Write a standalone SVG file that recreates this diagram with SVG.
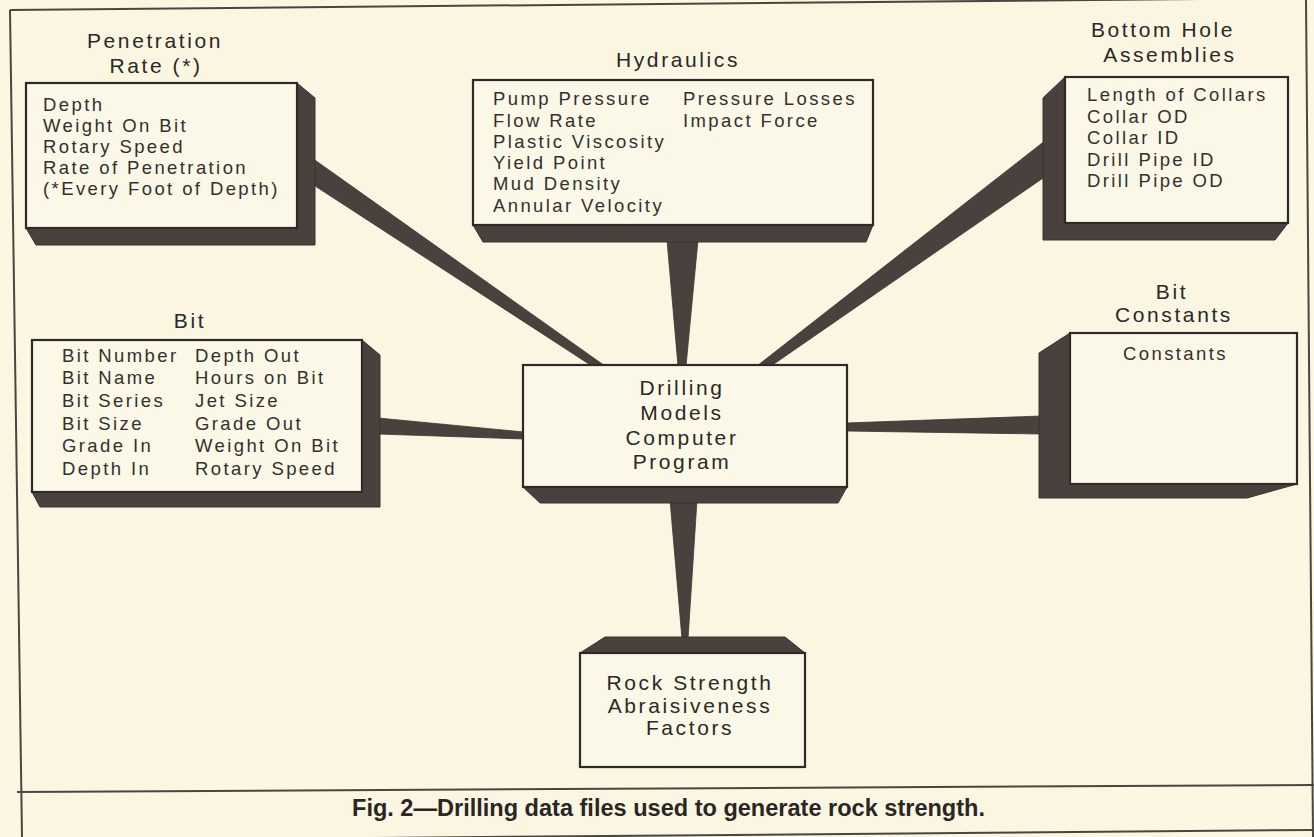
<svg xmlns="http://www.w3.org/2000/svg" width="1314" height="837" viewBox="0 0 1314 837">
<style>
.bg{fill:#faf6e2}
.shade{fill:#4a413e;stroke:#3a3230;stroke-width:1}
.face{fill:#fbf8e8;stroke:#2e2a28;stroke-width:2.2}
.frame{stroke:#4a4540;stroke-width:2;fill:none}
.wedge{fill:#4a403d;stroke:#3d3532;stroke-width:0.8}
.title{font-family:"Liberation Sans",Arial,sans-serif;font-size:21px;letter-spacing:2.6px;fill:#2b2826;text-anchor:middle}
.body{font-family:"Liberation Sans",Arial,sans-serif;font-size:18.5px;letter-spacing:2.4px;fill:#33302d}
.cap{font-family:"Liberation Sans",Arial,sans-serif;font-size:23px;font-weight:bold;fill:#2a2624}
</style>
<rect class="bg" x="0" y="0" width="1314" height="837"/>
<g id="frame">
<line class="frame" x1="10" y1="10" x2="1307" y2="-2"/>
<line class="frame" x1="10" y1="10" x2="22" y2="837"/>
<line class="frame" x1="1306" y1="0" x2="1313" y2="837"/>
<line class="frame" x1="17" y1="792" x2="1314" y2="785"/>
<line class="frame" x1="22" y1="841" x2="1314" y2="830"/>
</g>
<g id="connectors">
<polygon class="wedge" points="312,158 312,184 592,366 605,366"/>
<polygon class="wedge" points="667,240 698,240 686,366 678,366"/>
<polygon class="wedge" points="1046,140 1046,176 771,366 757,366"/>
<polygon class="wedge" points="378,418 378,434 524,439 524,432"/>
<polygon class="wedge" points="846,423 846,431 1042,434 1042,416"/>
<polygon class="wedge" points="670,500 697,500 688,639 682,639"/>
</g>
<g id="penetration-rate">
<polygon class="shade" points="26,83 297,83 315,98 315,245 36,245 26,228"/>
<rect class="face" x="26" y="83" width="271" height="145"/>
<text class="title" x="155" y="48">Penetration</text>
<text class="title" x="156" y="73">Rate (*)</text>
<text class="body" x="43" y="111">Depth</text>
<text class="body" x="43" y="132">Weight On Bit</text>
<text class="body" x="43" y="153">Rotary Speed</text>
<text class="body" x="43" y="174">Rate of Penetration</text>
<text class="body" x="43" y="195">(*Every Foot of Depth)</text>
</g>
<g id="hydraulics">
<polygon class="shade" points="473,225 873,225 866,242 483,242"/>
<rect class="face" x="473" y="80" width="400" height="145"/>
<text class="title" x="678" y="67">Hydraulics</text>
<text class="body" x="493" y="105">Pump Pressure</text>
<text class="body" x="493" y="127">Flow Rate</text>
<text class="body" x="493" y="148">Plastic Viscosity</text>
<text class="body" x="493" y="169">Yield Point</text>
<text class="body" x="493" y="190">Mud Density</text>
<text class="body" x="493" y="212">Annular Velocity</text>
<text class="body" x="683" y="105">Pressure Losses</text>
<text class="body" x="683" y="127">Impact Force</text>
</g>
<g id="bottom-hole-assemblies">
<polygon class="shade" points="1065,77 1043,98 1043,240 1275,240 1288,223"/>
<rect class="face" x="1065" y="77" width="223" height="146"/>
<text class="title" x="1163" y="37">Bottom Hole</text>
<text class="title" x="1170" y="62">Assemblies</text>
<text class="body" x="1087" y="101">Length of Collars</text>
<text class="body" x="1087" y="123">Collar OD</text>
<text class="body" x="1087" y="144">Collar ID</text>
<text class="body" x="1087" y="166">Drill Pipe ID</text>
<text class="body" x="1087" y="187">Drill Pipe OD</text>
</g>
<g id="bit">
<polygon class="shade" points="32,340 362,340 380,355 380,507 40,507 32,492"/>
<rect class="face" x="32" y="340" width="330" height="152"/>
<text class="title" x="190" y="328">Bit</text>
<text class="body" x="62" y="362">Bit Number</text>
<text class="body" x="62" y="384">Bit Name</text>
<text class="body" x="62" y="407">Bit Series</text>
<text class="body" x="62" y="430">Bit Size</text>
<text class="body" x="62" y="452">Grade In</text>
<text class="body" x="62" y="475">Depth In</text>
<text class="body" x="195" y="362">Depth Out</text>
<text class="body" x="195" y="384">Hours on Bit</text>
<text class="body" x="195" y="407">Jet Size</text>
<text class="body" x="195" y="430">Grade Out</text>
<text class="body" x="195" y="452">Weight On Bit</text>
<text class="body" x="195" y="475">Rotary Speed</text>
</g>
<g id="drilling-models">
<polygon class="shade" points="523,487 847,487 838,503 540,503"/>
<rect class="face" x="523" y="365" width="324" height="122"/>
<text class="title" x="682" y="395">Drilling</text>
<text class="title" x="682" y="420">Models</text>
<text class="title" x="682" y="445">Computer</text>
<text class="title" x="682" y="469">Program</text>
</g>
<g id="bit-constants">
<polygon class="shade" points="1070,333 1039,353 1039,498 1247,498 1297,484"/>
<rect class="face" x="1070" y="333" width="227" height="151"/>
<text class="title" x="1172" y="299">Bit</text>
<text class="title" x="1174" y="322">Constants</text>
<text class="body" x="1123" y="360">Constants</text>
</g>
<g id="rock-strength">
<polygon class="shade" points="580,653 605,637 785,637 805,653"/>
<rect class="face" x="580" y="653" width="225" height="114"/>
<text class="title" x="690" y="690">Rock Strength</text>
<text class="title" x="690" y="713">Abraisiveness</text>
<text class="title" x="690" y="735">Factors</text>
</g>
<g id="caption">
<text class="cap" x="352" y="816" textLength="633" lengthAdjust="spacingAndGlyphs">Fig. 2—Drilling data files used to generate rock strength.</text>
</g>
</svg>
